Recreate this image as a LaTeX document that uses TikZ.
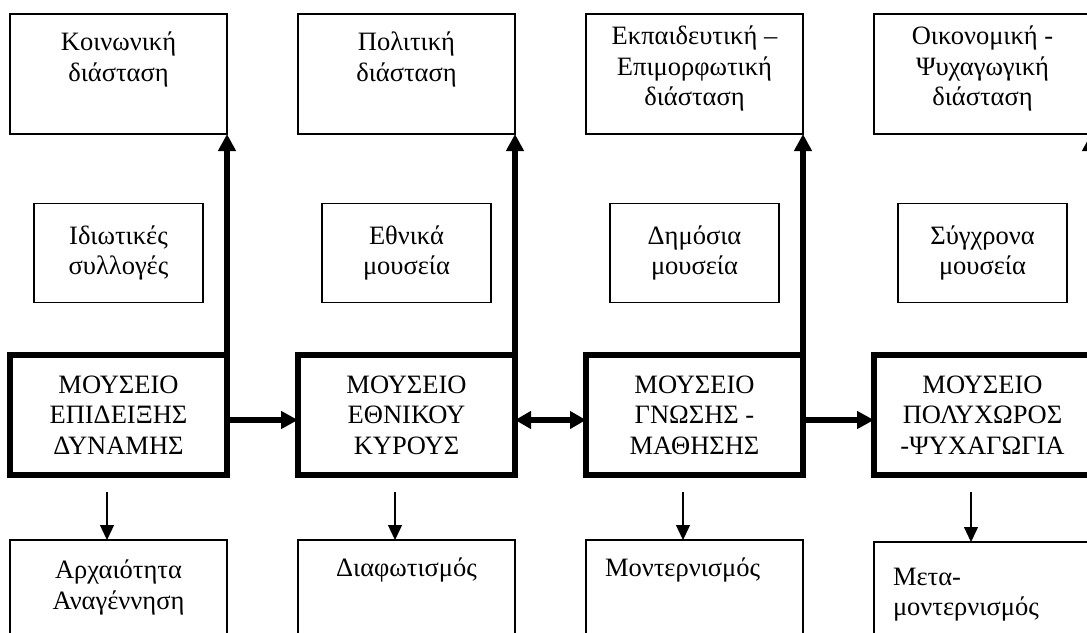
\documentclass[tikz,border=0pt]{standalone}
\usepackage{fontspec}
\setmainfont{Liberation Serif}
\usetikzlibrary{arrows.meta,positioning}

\begin{document}
\begin{tikzpicture}
        [x=1pt, y=-1pt,
         every node/.style={font=\fontsize{26.5pt}{30.5pt}\selectfont, inner sep=0pt, outer sep=0pt},
         dim_style/.style={rectangle,draw=black,line width=1.4pt,minimum width=217pt,minimum height=120pt},
         kind_style/.style={rectangle,draw=black,line width=1.4pt,minimum width=169pt,minimum height=99pt,align=center},
         museum_style/.style={rectangle,draw=black,line width=5.5pt,minimum width=217pt,minimum height=120pt,align=center},
         era_style/.style={rectangle,draw=black,line width=1.4pt,minimum width=217pt,minimum height=120pt},
         text_style/.style={align=center},
         big_edge/.style={draw=black,line width=5.5pt,-{Triangle[length=17pt,width=17pt]}},
         big_both/.style={draw=black,line width=5.5pt,{Triangle[length=16pt,width=17pt]}-{Triangle[length=16pt,width=17pt]}},
         small_edge/.style={draw=black,line width=1.3pt,-{Triangle[length=15pt,width=14pt]}}]
            \useasboundingbox (0,0) rectangle (1087,632);
            % top row: dimensions
            \node[dim_style] (d1) at (118.5, 74) {};
            \node[dim_style] (d2) at (406.5, 74) {};
            \node[dim_style] (d3) at (694.5, 74) {};
            \node[dim_style] (d4) at (982.5, 74) {};
            \node[text_style, below=18pt of d1.north] (dt1) {Κοινωνική\\διάσταση};
            \node[text_style, below=18pt of d2.north] (dt2) {Πολιτική\\διάσταση};
            \node[text_style, below=12pt of d3.north] (dt3) {Εκπαιδευτική –\\Επιμορφωτική\\διάσταση};
            \node[text_style, below=12pt of d4.north] (dt4) {Οικονομική -\\Ψυχαγωγική\\διάσταση};
            % kinds of collections
            \node[kind_style] (k1) at (118.5, 253) {Ιδιωτικές\\συλλογές};
            \node[kind_style] (k2) at (406.5, 253) {Εθνικά\\μουσεία};
            \node[kind_style] (k3) at (694.5, 253) {Δημόσια\\μουσεία};
            \node[kind_style] (k4) at (982.5, 253) {Σύγχρονα\\μουσεία};
            % museum types
            \node[museum_style] (m1) at (118.5, 415) {ΜΟΥΣΕΙΟ\\ΕΠΙΔΕΙΞΗΣ\\ΔΥΝΑΜΗΣ};
            \node[museum_style] (m2) at (406.5, 415) {ΜΟΥΣΕΙΟ\\ΕΘΝΙΚΟΥ\\ΚΥΡΟΥΣ};
            \node[museum_style] (m3) at (694.5, 415) {ΜΟΥΣΕΙΟ\\ΓΝΩΣΗΣ -\\ΜΑΘΗΣΗΣ};
            \node[museum_style] (m4) at (982.5, 415) {ΜΟΥΣΕΙΟ\\ΠΟΛΥΧΩΡΟΣ\\-ΨΥΧΑΓΩΓΙΑ};
            % bottom row: eras
            \node[era_style] (e1) at (118.5, 600) {};
            \node[era_style] (e2) at (406.5, 600) {};
            \node[era_style] (e3) at (694.5, 600) {};
            \node[era_style] (e4) at (982.5, 602) {};
            \node[text_style, below=20pt of e1.north] (et1) {Αρχαιότητα\\Αναγέννηση};
            \node[text_style, below=18pt of e2.north] (et2) {Διαφωτισμός};
            \node[below right=18pt and 19pt of e3.north west] (et3) {Μοντερνισμός};
            \node[align=left, below right=26pt and 19pt of e4.north west] (et4) {Μετα-\\μοντερνισμός};
            % connectors
            \draw[big_edge]  (m1.north east) -- (d1.south east);
            \draw[big_edge]  (m2.north east) -- (d2.south east);
            \draw[big_edge]  (m3.north east) -- (d3.south east);
            \draw[big_edge]  (m4.north east) -- (d4.south east);
            \draw[big_edge]  ([yshift=-5pt]m1.east) -- ([yshift=-5pt]m2.west);
            \draw[big_both]  ([yshift=-5pt]m2.east) -- ([yshift=-5pt]m3.west);
            \draw[big_edge]  ([yshift=-5pt]m3.east) -- ([yshift=-5pt]m4.west);
            \draw[small_edge]  ([xshift=-11.5pt,yshift=-17pt]m1.south) -- ([xshift=-11.5pt]e1.north);
            \draw[small_edge]  ([xshift=-11.5pt,yshift=-17pt]m2.south) -- ([xshift=-11.5pt]e2.north);
            \draw[small_edge]  ([xshift=-11.5pt,yshift=-17pt]m3.south) -- ([xshift=-11.5pt]e3.north);
            \draw[small_edge]  ([xshift=-11.5pt,yshift=-17pt]m4.south) -- ([xshift=-11.5pt]e4.north);
        \end{tikzpicture}
\end{document}
